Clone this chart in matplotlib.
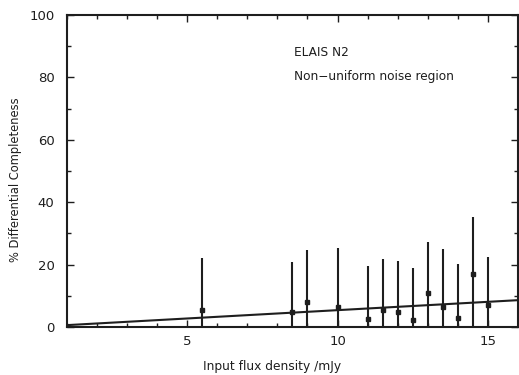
import matplotlib
matplotlib.use("Agg")
import matplotlib.pyplot as plt
from matplotlib.ticker import MultipleLocator

flux = [5.5, 8.5, 9.0, 10.0, 11.0, 11.5, 12.0, 12.5, 13.0, 13.5, 14.0, 14.5, 15.0]
completeness = [5.4, 4.9, 8.1, 6.5, 2.5, 5.4, 4.9, 2.2, 10.8, 6.5, 2.8, 17.0, 7.1]
err_top = [22.0, 20.8, 24.7, 25.2, 19.5, 21.8, 21.2, 18.8, 27.3, 25.0, 20.1, 35.4, 22.5]
fit_x = [1.0, 16.0]
fit_y = [0.6, 8.6]

ink = "#1e1e1e"
fig = plt.figure(figsize=(5.19, 3.75), dpi=100)
ax = fig.add_axes([0.129, 0.128, 0.869, 0.832])

lower = [c for c in completeness]
upper = [t - c for t, c in zip(err_top, completeness)]
ax.errorbar(flux, completeness, yerr=[lower, upper], fmt="s", ms=3.5,
            color=ink, ecolor=ink, elinewidth=1.5, capsize=0, zorder=3)
ax.plot(fit_x, fit_y, color=ink, lw=1.5, zorder=2)

ax.set_xlim(1, 16)
ax.set_ylim(0, 100)
ax.xaxis.set_major_locator(MultipleLocator(5))
ax.xaxis.set_minor_locator(MultipleLocator(1))
ax.yaxis.set_major_locator(MultipleLocator(20))
ax.yaxis.set_minor_locator(MultipleLocator(10))
ax.tick_params(which="both", direction="in", top=True, right=True,
               colors=ink, labelsize=9.5, width=1.0)
ax.tick_params(which="major", length=5)
ax.tick_params(axis="y", which="major", pad=9)
ax.tick_params(axis="x", which="major", pad=6)
ax.tick_params(which="minor", length=3)
for s in ax.spines.values():
    s.set_linewidth(1.5)
    s.set_color(ink)

ax.set_xlabel("Input flux density /mJy", fontsize=8.8, color=ink)
ax.set_ylabel("% Differential Completeness", fontsize=8.3, color=ink)
ax.xaxis.set_label_coords(0.454, -0.128)
ax.yaxis.set_label_coords(-0.115, 0.471)
ax.xaxis.label.set_va("center")
ax.yaxis.label.set_va("center")

ax.text(0.504, 0.881, "ELAIS N2", transform=ax.transAxes, fontsize=8.7,
        color=ink, va="center")
ax.text(0.504, 0.804, "Non\u2212uniform noise region", transform=ax.transAxes,
        fontsize=8.7, color=ink, va="center")

fig.savefig("out.png", dpi=100)
